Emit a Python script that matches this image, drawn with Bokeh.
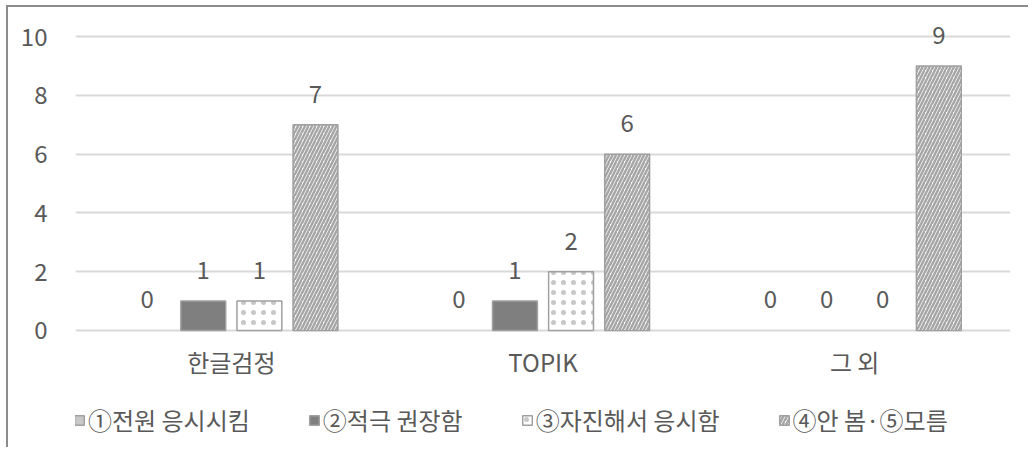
import numpy as np
from bokeh.plotting import figure
from bokeh.models import Range1d, FactorRange, ColumnDataSource, Legend, LegendItem, FixedTicker
from bokeh.transform import dodge
from bokeh.core.properties import value
from bokeh.embed import file_html
from bokeh.resources import INLINE

categories = ["한글검정", "TOPIK", "그 외"]
series_names = ["①전원 응시시킴", "②적극 권장함", "③자진해서 응시함", "④안 봄·⑤모름"]
s1 = [0, 0, 0]
s2 = [1, 1, 0]
s3 = [1, 2, 0]
s4 = [7, 6, 9]
y_ticks = [0, 2, 4, 6, 8, 10]

FONT = "Noto Sans CJK KR"
TXT = "#595959"

data = dict(cat=categories, s1=s1, s2=s2, s3=s3, s4=s4, base=[0] * len(categories))
keys = ["s1", "s2", "s3", "s4"]
for k in keys:
    # zero-height bars show no outline
    data[k + "_la"] = [0.0 if v == 0 else 1.0 for v in data[k]]
src = ColumnDataSource(data)

# the frame reaches the canvas bottom so the legend and category labels are not clipped
p = figure(width=1022, height=442, output_backend="svg", toolbar_location=None,
           x_range=FactorRange(*categories, range_padding=0), y_range=Range1d(-4.05, 10.65),
           x_axis_location=None,
           min_border_left=67, min_border_right=20, min_border_top=10, min_border_bottom=0)
p.styles = {"border-left": "2px solid #8c8c8c", "border-top": "2px solid #8c8c8c",
            "margin-left": "6px", "margin-top": "5px"}
p.outline_line_color = None
p.background_fill_color = "white"

offs = [-0.27, -0.09, 0.09, 0.27]
bw = 0.144
styles = [
    dict(fill_color="#c8c8c8", line_color="#a0a0a0"),
    dict(fill_color="#7f7f7f", line_color="#a0a0a0"),
    dict(fill_color="white", line_color="#a0a0a0", hatch_pattern="dot", hatch_color="#b4b4b4",
         hatch_scale=10, hatch_alpha=0.75),
    dict(fill_color="white", line_color="#a0a0a0", hatch_pattern="right_diagonal_line",
         hatch_color="#a6a6a6", hatch_scale=7, hatch_weight=2.5),
]

p.ygrid.ticker = FixedTicker(ticks=y_ticks)
p.ygrid.grid_line_color = "#d9d9d9"
p.ygrid.grid_line_width = 2
p.xgrid.grid_line_color = None

items = []
for k, off, st, name in zip(keys, offs, styles, series_names):
    p.vbar(x=dodge("cat", off, range=p.x_range), top=k, width=bw, source=src,
           line_width=1.5, line_alpha=k + "_la", **st)
    # legend swatch: a renderer whose only bar has no height value (not drawn)
    proxy_src = ColumnDataSource(dict(x=[categories[0]], top=np.array([np.nan])))
    proxy = p.vbar(x="x", top="top", width=bw, source=proxy_src, line_width=1.5, **st)
    items.append(LegendItem(label=name, renderers=[proxy]))
    p.text(x=dodge("cat", off, range=p.x_range), y=k, text=k, source=src,
           text_align="center", text_baseline="alphabetic", y_offset=-31,
           text_font=value(FONT), text_font_size="24px", text_color=TXT)

# category labels under the zero line
p.text(x="cat", y="base", text="cat", source=src, text_align="center",
       text_baseline="alphabetic", y_offset=31, text_font=value(FONT),
       text_font_size="24px", text_color=TXT)

p.yaxis.ticker = FixedTicker(ticks=y_ticks)
p.yaxis.axis_line_color = None
p.yaxis.major_tick_line_color = None
p.yaxis.minor_tick_line_color = None
p.yaxis.major_label_text_font = FONT
p.yaxis.major_label_text_font_size = "24px"
p.yaxis.major_label_text_color = TXT
p.yaxis.major_label_standoff = 22

legend = Legend(items=items, orientation="horizontal", location=(-2, 12),
                label_text_font=FONT, label_text_font_size="24px", label_text_color=TXT,
                glyph_width=12, glyph_height=12, label_standoff=3, spacing=58,
                border_line_color=None, background_fill_alpha=0, margin=0, padding=4)
p.add_layout(legend, "center")

open("out.html", "w").write(file_html(p, INLINE))
